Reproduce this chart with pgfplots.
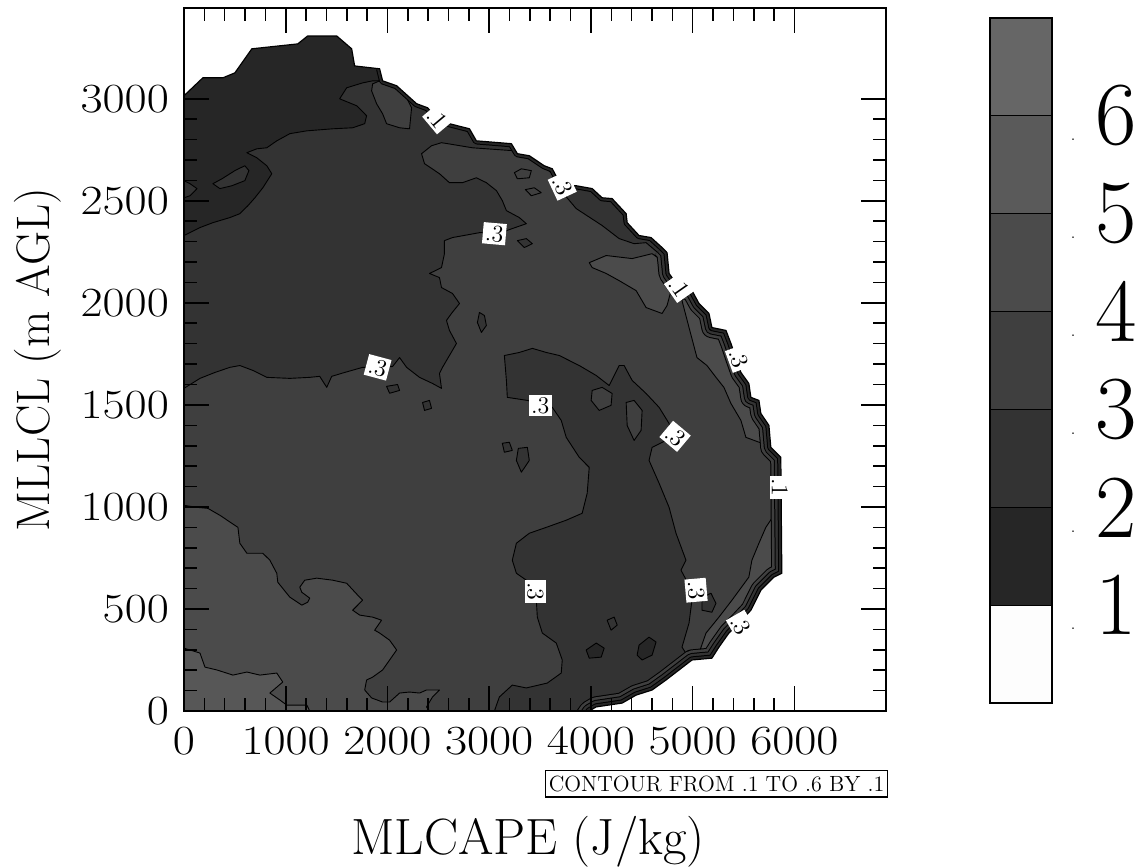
\documentclass[border=0pt]{standalone}
\usepackage{pgfplots}
\pgfplotsset{compat=1.18}
\definecolor{cA}{HTML}{262626}
\definecolor{cB}{HTML}{333333}
\definecolor{cC}{HTML}{3F3F3F}
\definecolor{cD}{HTML}{4B4B4B}
\definecolor{cE}{HTML}{575757}
\definecolor{cF}{HTML}{666666}
\definecolor{cG}{HTML}{5A5A5A}
\definecolor{cW}{HTML}{FDFDFD}
\pgfplotsset{
  ct/.style={draw=black, line width=0.45pt, line join=round},
}
\tikzset{lab/.style={fill=white, inner sep=1.2pt, font=\fontsize{12}{12}\selectfont}}
\begin{document}
\begin{tikzpicture}
\begin{axis}[
  at={(0pt,0pt)}, anchor=south west, scale only axis,
  width=351pt, height=351.5pt,
  xmin=0, xmax=6900, ymin=0, ymax=3445,
  xtick={0,1000,...,6000}, ytick={0,500,...,3000},
  minor x tick num=4, minor y tick num=4,
  tick align=inside, major tick length=12.5pt, minor tick length=6.5pt,
  tick style={black, line width=0.8pt},
  axis line style={line width=0.9pt},
  ticklabel style={font=\fontsize{20.5}{20.5}\selectfont},
  xticklabel={\scalebox{1.16}[1]{\axisdefaultticklabel}},
  yticklabel={\scalebox{1.16}[1]{\axisdefaultticklabel}},
  xticklabel style={yshift=-5pt},
  yticklabel style={xshift=-4pt},
  /pgf/number format/set thousands separator={},
  scaled ticks=false,
  xlabel={MLCAPE (J/kg)}, ylabel={MLLCL (m AGL)},
  every axis x label/.style={at={(axis description cs:0.49,-0.2048)}, anchor=base, font=\fontsize{25.5}{25.5}\selectfont},
  every axis y label/.style={at={(axis description cs:-0.1909,0.5)}, anchor=base, rotate=90, font=\fontsize{23.5}{23.5}\selectfont},
  axis on top, no markers, clip mode=individual,
]
% level 0.1-0.2 : whole data domain
\addplot[fill=cA, draw=none] coordinates {
(0,0) (0,3015) (186,3103) (383,3103) (500,3127) (667,3245) (1118,3269) (1216,3308) (1501,3308) (1648,3245) (1677,3161) (1923,3147) (1952,3088) (2090,3064) (2286,2976) (2394,2956) (2492,2902) (2609,2878) (2806,2853) (2874,2794) (3218,2780) (3277,2731) (3394,2721) (3541,2672) (3620,2657) (3708,2574) (3855,2574) (4012,2560) (4110,2515) (4208,2511) (4346,2437) (4356,2393) (4473,2330) (4591,2320) (4699,2271) (4748,2246) (4768,2144) (4866,2075) (4993,2060) (5062,1997) (5160,1948) (5189,1879) (5327,1865) (5376,1801) (5425,1728) (5474,1659) (5552,1605) (5572,1537) (5651,1522) (5670,1458) (5749,1400) (5768,1292) (5866,1243) (5876,675) (5798,656) (5670,592) (5572,494) (5454,431) (5356,382) (5258,313) (5189,259) (4993,250) (4738,152) (4601,103) (4444,78) (4307,39) (4051,20) (3983,0)
} -- cycle;
% level 0.2-0.3
\addplot[fill=cB, ct] coordinates {
(0,0) (0,2330) (157,2369) (284,2393) (451,2418) (549,2437) (628,2476) (697,2515) (775,2564) (863,2633) (814,2672) (716,2711) (618,2736) (716,2755) (814,2760) (912,2794) (1040,2829) (1207,2843) (1462,2853) (1658,2858) (1776,2878) (1795,2917) (1697,2966) (1530,3000) (1599,3054) (1756,3078) (1854,3088) (1952,3088) (2090,3064) (2286,2976) (2394,2956) (2492,2902) (2609,2878) (2806,2853) (2874,2794) (3218,2780) (3277,2731) (3394,2721) (3541,2672) (3620,2657) (3708,2574) (3855,2574) (4012,2560) (4110,2515) (4208,2511) (4346,2437) (4356,2393) (4473,2330) (4591,2320) (4699,2271) (4748,2246) (4768,2144) (4866,2075) (4993,2060) (5062,1997) (5160,1948) (5189,1879) (5327,1865) (5376,1801) (5425,1728) (5474,1659) (5552,1605) (5572,1537) (5651,1522) (5670,1458) (5749,1400) (5768,1292) (5866,1243) (5876,675) (5798,656) (5670,592) (5572,494) (5454,431) (5356,382) (5258,313) (5189,259) (4993,250) (4738,152) (4601,103) (4444,78) (4307,39) (4051,20) (3983,0)
} -- cycle;
\addplot[fill=cB, ct] coordinates {(284,2584) (373,2608) (500,2648) (598,2672) (638,2648) (598,2599) (471,2574) (353,2560)} -- cycle;
\addplot[fill=cB, ct] coordinates {(0,2599) (59,2584) (128,2560) (59,2525) (0,2515)} -- cycle;
% level 0.3-0.4
\addplot[fill=cC, ct] coordinates {
(0,1581) (157,1630) (304,1659) (451,1684) (549,1693) (677,1669) (814,1635) (1040,1630) (1236,1635) (1334,1640) (1403,1586) (1452,1640) (1579,1659) (1756,1684) (1903,1684) (2050,1688) (2119,1732) (2188,1684) (2315,1635) (2443,1605) (2531,1581) (2511,1654) (2541,1684) (2678,1801) (2609,1865) (2580,1914) (2629,1948) (2708,1997) (2639,2046) (2531,2075) (2511,2124) (2413,2144) (2531,2173) (2560,2241) (2560,2305) (2639,2320) (2904,2344) (3169,2354) (3365,2388) (3296,2418) (3169,2452) (3129,2501) (3071,2550) (2972,2589) (2874,2613) (2737,2589) (2609,2589) (2511,2633) (2364,2682) (2335,2731) (2433,2770) (2531,2785) (2835,2760) (3227,2746) (3394,2706) (3522,2672) (3610,2638) (3689,2560) (3855,2462) (4110,2379) (4277,2315) (4424,2290) (4542,2295) (4670,2241) (4699,2197) (4768,2144) (4866,2075) (4993,2060) (5062,1997) (5160,1948) (5189,1879) (5327,1865) (5376,1801) (5425,1728) (5474,1659) (5552,1605) (5572,1537) (5651,1522) (5670,1458) (5749,1400) (5768,1292) (5866,1243) (5876,675) (5798,656) (5670,592) (5572,494) (5454,431) (5356,382) (5258,313) (5189,259) (4993,250) (4738,152) (4601,103) (4444,78) (4307,39) (4051,20) (3983,0) (0,0)
} -- cycle;
\addplot[fill=cC, ct] coordinates {(1854,3073) (1923,3088) (2050,3064) (2188,3005) (2237,2956) (2217,2853) (2119,2858) (1991,2878) (1952,2927) (1893,2976) (1844,3039)} -- cycle;
\addplot[fill=cC, ct] coordinates {(3247,2638) (3316,2657) (3414,2648) (3394,2613) (3277,2608)} -- cycle;
\addplot[fill=cC, ct] coordinates {(3355,2555) (3443,2564) (3512,2540) (3414,2525)} -- cycle;
% level 0.4-0.5
\addplot[fill=cD, ct] coordinates {
(0,1008) (128,998) (235,993) (353,959) (530,900) (549,822) (618,773) (775,773) (844,739) (912,675) (922,631) (1040,558) (1158,519) (1216,533) (1236,553) (1158,582) (1138,607) (1187,641) (1305,651) (1462,641) (1599,626) (1707,568) (1756,543) (1658,494) (1727,470) (1854,460) (1942,445) (1874,396) (1923,382) (2021,347) (2090,299) (2021,250) (1952,201) (1854,166) (1795,152) (1776,103) (1844,64) (1952,44) (2021,44) (2119,88) (2217,93) (2315,88) (2384,103) (2511,103) (2443,69) (2384,20) (2413,0) (0,0)
} -- cycle;
\addplot[fill=cD, ct] coordinates {(3983,2197) (4150,2232) (4405,2217) (4601,2241) (4670,2217) (4748,2158) (4787,2060) (4748,1987) (4699,1948) (4542,1977) (4444,2060) (4277,2109) (4150,2144) (4012,2173)} -- cycle;
\addplot[fill=cD, ct] coordinates {(4895,2011) (4964,1879) (5042,1732) (5140,1693) (5229,1635) (5307,1586) (5376,1507) (5474,1424) (5523,1341) (5680,1312) (5729,1287) (5768,1292) (5749,1400) (5670,1458) (5651,1522) (5572,1537) (5552,1605) (5474,1659) (5425,1728) (5376,1801) (5327,1865) (5189,1879) (5160,1948) (5062,1997) (4993,2060) (4930,2060)} -- cycle;
\addplot[fill=cD, ct] coordinates {(5798,959) (5719,900) (5651,822) (5582,739) (5552,656) (5386,543) (5258,460) (5131,382) (5062,284) (5111,264) (5189,259) (5258,313) (5356,382) (5454,431) (5572,494) (5670,592) (5798,656) (5876,675) (5876,959)} -- cycle;
% level 0.5-0.6
\addplot[fill=cE, ct] coordinates {(0,308) (157,284) (206,215) (324,201) (481,176) (618,191) (746,176) (912,186) (971,142) (844,88) (942,54) (1010,29) (1109,29) (1207,29) (1236,0) (0,0)} -- cycle;
% central blob 0.2-0.3
\addplot[fill=cB, ct] coordinates {
(3149,1742) (3296,1757) (3424,1777) (3561,1757) (3689,1742) (3885,1693) (4052,1644) (4179,1595) (4277,1693) (4326,1693) (4405,1620) (4542,1556) (4670,1488) (4768,1409) (4797,1341) (4601,1292) (4571,1228) (4670,1116) (4768,998) (4836,871) (4934,739) (4885,690) (4964,617) (4993,543) (4964,431) (4895,313) (4964,259) (4738,152) (4601,103) (4444,78) (4307,39) (4051,20) (3983,0) (3051,0) (3100,69) (3227,127) (3365,113) (3571,137) (3708,186) (3718,250) (3659,333) (3522,382) (3473,460) (3463,543) (3365,641) (3267,675) (3227,739) (3267,822) (3394,871) (3561,900) (3757,935) (3914,969) (3963,1067) (3983,1194) (3885,1243) (3757,1341) (3708,1424) (3620,1488) (3375,1522) (3178,1537) (3169,1620)
} -- cycle;
% islands
\addplot[fill=cC, ct] coordinates {(4012,1571) (4110,1586) (4208,1556) (4198,1498) (4081,1473) (4002,1522)} -- cycle;
\addplot[fill=cC, ct] coordinates {(4346,1512) (4424,1522) (4503,1473) (4493,1375) (4424,1326) (4356,1399)} -- cycle;
\addplot[fill=cA, ct] coordinates {(3953,299) (4052,333) (4130,308) (4101,264) (3983,259)} -- cycle;
\addplot[fill=cA, ct] coordinates {(4473,323) (4571,362) (4640,338) (4601,274) (4503,250) (4454,274)} -- cycle;
\addplot[fill=cB, ct] coordinates {(4159,445) (4228,460) (4258,421) (4198,396)} -- cycle;
\addplot[fill=cB, ct] coordinates {(5091,558) (5180,577) (5229,528) (5189,484) (5091,494)} -- cycle;
\addplot[fill=cB, ct] coordinates {(1991,1591) (2099,1600) (2119,1571) (2021,1557)} -- cycle;
\addplot[fill=cB, ct] coordinates {(2345,1512) (2413,1522) (2433,1483) (2364,1473)} -- cycle;
\addplot[fill=cB, ct] coordinates {(3129,1312) (3198,1317) (3227,1277) (3149,1268)} -- cycle;
\addplot[fill=cB, ct] coordinates {(3286,1287) (3375,1292) (3394,1228) (3316,1170) (3267,1228)} -- cycle;
\addplot[fill=cB, ct] coordinates {(3277,2305) (3365,2315) (3424,2290) (3345,2271)} -- cycle;
\addplot[fill=cB, ct] coordinates {(2904,1953) (2953,1938) (2972,1889) (2923,1855) (2884,1904)} -- cycle;
% rim bands, top part
\addplot[draw=black, line width=3.6pt, line join=round] coordinates {(1923,3147) (1952,3088) (2090,3064) (2286,2976) (2394,2956) (2492,2902) (2609,2878) (2806,2853) (2874,2794) (3218,2780) (3277,2731) (3394,2721) (3541,2672) (3620,2657) (3708,2574) (3855,2574) (4012,2560) (4110,2515) (4208,2511) (4346,2437) (4356,2393) (4473,2330) (4591,2320) (4699,2271) (4748,2246)};
\addplot[draw=cA, line width=2.6pt, line join=round] coordinates {(1923,3147) (1952,3088) (2090,3064) (2286,2976) (2394,2956) (2492,2902) (2609,2878) (2806,2853) (2874,2794) (3218,2780) (3277,2731) (3394,2721) (3541,2672) (3620,2657) (3708,2574) (3855,2574) (4012,2560) (4110,2515) (4208,2511) (4346,2437) (4356,2393) (4473,2330) (4591,2320) (4699,2271) (4748,2246)};
% rim bands, right part
\addplot[draw=black, line width=10.6pt, line join=round] coordinates {(4699,2271) (4748,2246) (4768,2144) (4866,2075) (4993,2060) (5062,1997) (5160,1948) (5189,1879) (5327,1865) (5376,1801) (5425,1728) (5474,1659) (5552,1605) (5572,1537) (5651,1522) (5670,1458) (5749,1400) (5768,1292) (5866,1243) (5876,675) (5798,656) (5670,592) (5572,494) (5454,431) (5356,382) (5258,313) (5189,259) (4993,250) (4738,152) (4601,103) (4444,78) (4307,39) (4051,20) (3983,0) (3900,-60)};
\addplot[draw=cC, line width=9.6pt, line join=round] coordinates {(4699,2271) (4748,2246) (4768,2144) (4866,2075) (4993,2060) (5062,1997) (5160,1948) (5189,1879) (5327,1865) (5376,1801) (5425,1728) (5474,1659) (5552,1605) (5572,1537) (5651,1522) (5670,1458) (5749,1400) (5768,1292) (5866,1243) (5876,675) (5798,656) (5670,592) (5572,494) (5454,431) (5356,382) (5258,313) (5189,259) (4993,250) (4738,152) (4601,103) (4444,78) (4307,39) (4051,20) (3983,0) (3900,-60)};
\addplot[draw=black, line width=7pt, line join=round] coordinates {(4699,2271) (4748,2246) (4768,2144) (4866,2075) (4993,2060) (5062,1997) (5160,1948) (5189,1879) (5327,1865) (5376,1801) (5425,1728) (5474,1659) (5552,1605) (5572,1537) (5651,1522) (5670,1458) (5749,1400) (5768,1292) (5866,1243) (5876,675) (5798,656) (5670,592) (5572,494) (5454,431) (5356,382) (5258,313) (5189,259) (4993,250) (4738,152) (4601,103) (4444,78) (4307,39) (4051,20) (3983,0) (3900,-60)};
\addplot[draw=cB, line width=6pt, line join=round] coordinates {(4699,2271) (4748,2246) (4768,2144) (4866,2075) (4993,2060) (5062,1997) (5160,1948) (5189,1879) (5327,1865) (5376,1801) (5425,1728) (5474,1659) (5552,1605) (5572,1537) (5651,1522) (5670,1458) (5749,1400) (5768,1292) (5866,1243) (5876,675) (5798,656) (5670,592) (5572,494) (5454,431) (5356,382) (5258,313) (5189,259) (4993,250) (4738,152) (4601,103) (4444,78) (4307,39) (4051,20) (3983,0) (3900,-60)};
\addplot[draw=black, line width=3.6pt, line join=round] coordinates {(4699,2271) (4748,2246) (4768,2144) (4866,2075) (4993,2060) (5062,1997) (5160,1948) (5189,1879) (5327,1865) (5376,1801) (5425,1728) (5474,1659) (5552,1605) (5572,1537) (5651,1522) (5670,1458) (5749,1400) (5768,1292) (5866,1243) (5876,675) (5798,656) (5670,592) (5572,494) (5454,431) (5356,382) (5258,313) (5189,259) (4993,250) (4738,152) (4601,103) (4444,78) (4307,39) (4051,20) (3983,0) (3900,-60)};
\addplot[draw=cA, line width=2.6pt, line join=round] coordinates {(4699,2271) (4748,2246) (4768,2144) (4866,2075) (4993,2060) (5062,1997) (5160,1948) (5189,1879) (5327,1865) (5376,1801) (5425,1728) (5474,1659) (5552,1605) (5572,1537) (5651,1522) (5670,1458) (5749,1400) (5768,1292) (5866,1243) (5876,675) (5798,656) (5670,592) (5572,494) (5454,431) (5356,382) (5258,313) (5189,259) (4993,250) (4738,152) (4601,103) (4444,78) (4307,39) (4051,20) (3983,0) (3900,-60)};
% outside of the data (below 0.1)
\addplot[fill=white, draw=black, line width=0.6pt, line join=round] coordinates {
(0,3600) (7100,3600) (7100,-100) (3983,-100) (3983,0) (4051,20) (4307,39) (4444,78) (4601,103) (4738,152) (4993,250) (5189,259) (5258,313) (5356,382) (5454,431) (5572,494) (5670,592) (5798,656) (5876,675) (5866,1243) (5768,1292) (5749,1400) (5670,1458) (5651,1522) (5572,1537) (5552,1605) (5474,1659) (5425,1728) (5376,1801) (5327,1865) (5189,1879) (5160,1948) (5062,1997) (4993,2060) (4866,2075) (4768,2144) (4748,2246) (4699,2271) (4591,2320) (4473,2330) (4356,2393) (4346,2437) (4208,2511) (4110,2515) (4012,2560) (3855,2574) (3708,2574) (3620,2657) (3541,2672) (3394,2721) (3277,2731) (3218,2780) (2874,2794) (2806,2853) (2609,2878) (2492,2902) (2394,2956) (2286,2976) (2090,3064) (1952,3088) (1923,3147) (1677,3161) (1648,3245) (1501,3308) (1216,3308) (1118,3269) (667,3245) (500,3127) (383,3103) (186,3103) (0,3015)
} -- cycle;
% contour labels
\node[lab, rotate=-50] at (axis cs:2492,2902) {.1};
\node[lab, rotate=-65] at (axis cs:3718,2574) {.3};
\node[lab, rotate=-5] at (axis cs:3051,2339) {.3};
\node[lab, rotate=-15] at (axis cs:1903,1684) {.3};
\node[lab] at (axis cs:3502,1498) {.3};
\node[lab, rotate=-40] at (axis cs:4827,1346) {.3};
\node[lab, rotate=-55] at (axis cs:4866,2075) {.1};
\node[lab, rotate=-70] at (axis cs:5454,1728) {.3};
\node[lab, rotate=-90] at (axis cs:5857,1096) {.1};
\node[lab, rotate=-90] at (axis cs:3453,587) {.3};
\node[lab, rotate=-85] at (axis cs:5033,592) {.3};
\node[lab, rotate=-60] at (axis cs:5474,421) {.3};
\node[draw, line width=0.6pt, inner xsep=1.5pt, inner ysep=2.6pt, anchor=north east, font=\fontsize{11}{11}\selectfont] at (axis description cs:1.003,-0.084) {CONTOUR FROM .1 TO .6 BY .1};
\end{axis}
% colour bar
\begin{axis}[
  at={(403pt,4pt)}, anchor=south west, scale only axis,
  width=31pt, height=342.5pt, xmin=0, xmax=1, ymin=0, ymax=7,
  hide axis, clip=false, no markers,
]
\addplot[fill=cW, draw=black, line width=0.6pt] coordinates {(0,0) (1,0) (1,1) (0,1)} -- cycle;
\addplot[fill=cA, draw=black, line width=0.6pt] coordinates {(0,1) (1,1) (1,2) (0,2)} -- cycle;
\addplot[fill=cB, draw=black, line width=0.6pt] coordinates {(0,2) (1,2) (1,3) (0,3)} -- cycle;
\addplot[fill=cC, draw=black, line width=0.6pt] coordinates {(0,3) (1,3) (1,4) (0,4)} -- cycle;
\addplot[fill=cD, draw=black, line width=0.6pt] coordinates {(0,4) (1,4) (1,5) (0,5)} -- cycle;
\addplot[fill=cG, draw=black, line width=0.6pt] coordinates {(0,5) (1,5) (1,6) (0,6)} -- cycle;
\addplot[fill=cF, draw=black, line width=0.6pt] coordinates {(0,6) (1,6) (1,7) (0,7)} -- cycle;
\pgfplotsinvokeforeach{1,...,6}{
  \node[font=\fontsize{7}{7}\selectfont, inner sep=0pt] at (axis cs:1,#1) [xshift=10.5pt, yshift=-12pt] {.};
  \node[font=\fontsize{45}{45}\selectfont, inner sep=0pt] at (axis cs:1,#1) [xshift=32pt] {#1};
}
\end{axis}
\pgfresetboundingbox
\path[use as bounding box] (-92pt,-78pt) rectangle (479.5pt,355.5pt);
\end{tikzpicture}
\end{document}
